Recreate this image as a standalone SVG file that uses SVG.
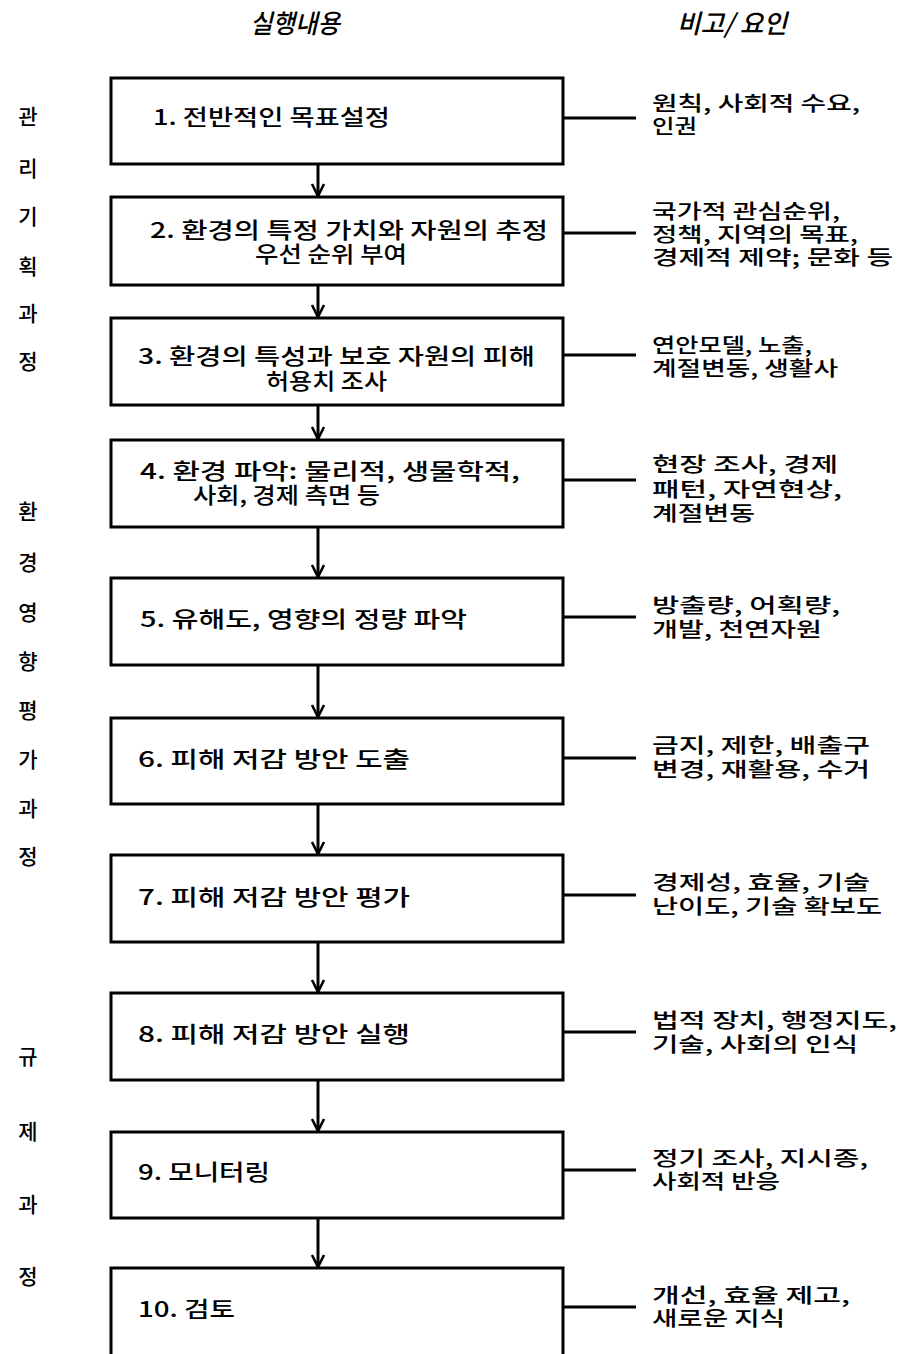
<svg xmlns="http://www.w3.org/2000/svg" width="899" height="1354" viewBox="0 0 899 1354">
<style>
.bg{fill:#fff}
.box{fill:#fff;stroke:#000;stroke-width:3}
.t{font-family:"Noto Sans CJK KR","Liberation Sans",sans-serif;font-size:22px;font-weight:500;fill:#000;dominant-baseline:central}
.r{font-family:"Noto Sans CJK KR","Liberation Sans",sans-serif;font-size:20px;font-weight:500;fill:#000;dominant-baseline:central}
.h{font-family:"Noto Sans CJK KR","Liberation Sans",sans-serif;font-size:26px;font-weight:500;font-style:italic;fill:#000;dominant-baseline:central}
.l{font-family:"Noto Sans CJK KR","Liberation Sans",sans-serif;font-size:21px;font-weight:500;fill:#000;dominant-baseline:central;text-anchor:middle}
.c{stroke:#000;stroke-width:3;fill:none}
.a{stroke:#000;stroke-width:3;fill:none}
</style>
<defs>
<marker id="arr" markerUnits="userSpaceOnUse" markerWidth="16" markerHeight="16" refX="13" refY="7" orient="auto" viewBox="0 0 16 14">
<path d="M1,1 L13,7 L1,13" fill="none" stroke="#000" stroke-width="2.6"/>
</marker>
</defs>
<rect class="bg" x="0" y="0" width="899" height="1354"/>
<g id="headers">
<text class="h" x="250" y="21" textLength="90" lengthAdjust="spacingAndGlyphs">실행내용</text>
<text class="h" x="677" y="21" textLength="110" lengthAdjust="spacingAndGlyphs">비고/ 요인</text>
</g>
<g id="side-labels">
<text class="l" x="28" y="115">관</text>
<text class="l" x="28" y="167">리</text>
<text class="l" x="28" y="215">기</text>
<text class="l" x="28" y="265">획</text>
<text class="l" x="28" y="312">과</text>
<text class="l" x="28" y="360">정</text>
<text class="l" x="28" y="510">환</text>
<text class="l" x="28" y="561">경</text>
<text class="l" x="28" y="611">영</text>
<text class="l" x="28" y="660">향</text>
<text class="l" x="28" y="709">평</text>
<text class="l" x="28" y="758">가</text>
<text class="l" x="28" y="807">과</text>
<text class="l" x="28" y="855">정</text>
<text class="l" x="28" y="1055">규</text>
<text class="l" x="28" y="1130">제</text>
<text class="l" x="28" y="1203">과</text>
<text class="l" x="28" y="1275">정</text>
</g>
<g id="connectors">
<line class="a" x1="318" y1="164" x2="318" y2="196" marker-end="url(#arr)"/>
<line class="a" x1="318" y1="285" x2="318" y2="317" marker-end="url(#arr)"/>
<line class="a" x1="318" y1="405" x2="318" y2="439" marker-end="url(#arr)"/>
<line class="a" x1="318" y1="527" x2="318" y2="577" marker-end="url(#arr)"/>
<line class="a" x1="318" y1="665" x2="318" y2="717" marker-end="url(#arr)"/>
<line class="a" x1="318" y1="804" x2="318" y2="854" marker-end="url(#arr)"/>
<line class="a" x1="318" y1="942" x2="318" y2="992" marker-end="url(#arr)"/>
<line class="a" x1="318" y1="1080" x2="318" y2="1131" marker-end="url(#arr)"/>
<line class="a" x1="318" y1="1218" x2="318" y2="1267" marker-end="url(#arr)"/>
<line class="c" x1="563" y1="118" x2="636" y2="118"/>
<line class="c" x1="563" y1="233" x2="636" y2="233"/>
<line class="c" x1="563" y1="355" x2="636" y2="355"/>
<line class="c" x1="563" y1="480" x2="636" y2="480"/>
<line class="c" x1="563" y1="617" x2="636" y2="617"/>
<line class="c" x1="563" y1="758" x2="636" y2="758"/>
<line class="c" x1="563" y1="895" x2="636" y2="895"/>
<line class="c" x1="563" y1="1032" x2="636" y2="1032"/>
<line class="c" x1="563" y1="1170" x2="636" y2="1170"/>
<line class="c" x1="563" y1="1307" x2="636" y2="1307"/>
</g>
<g id="n1">
<rect class="box" x="111" y="78" width="452" height="86"/>
<text class="t" x="153" y="115" textLength="237" lengthAdjust="spacingAndGlyphs">1. 전반적인 목표설정</text>
<text class="r" x="652" y="102" textLength="208" lengthAdjust="spacingAndGlyphs">원칙, 사회적 수요,</text>
<text class="r" x="652" y="125" textLength="45" lengthAdjust="spacingAndGlyphs">인권</text>
</g>
<g id="n2">
<rect class="box" x="111" y="197" width="452" height="88"/>
<text class="t" x="150" y="228" textLength="398" lengthAdjust="spacingAndGlyphs">2. 환경의 특정 가치와 자원의 추정</text>
<text class="t" x="255" y="252" textLength="152" lengthAdjust="spacingAndGlyphs">우선 순위 부여</text>
<text class="r" x="652" y="210" textLength="188" lengthAdjust="spacingAndGlyphs">국가적 관심순위,</text>
<text class="r" x="652" y="233" textLength="206" lengthAdjust="spacingAndGlyphs">정책, 지역의 목표,</text>
<text class="r" x="652" y="256" textLength="241" lengthAdjust="spacingAndGlyphs">경제적 제약; 문화 등</text>
</g>
<g id="n3">
<rect class="box" x="111" y="318" width="452" height="87"/>
<text class="t" x="138" y="354" textLength="397" lengthAdjust="spacingAndGlyphs">3. 환경의 특성과 보호 자원의 피해</text>
<text class="t" x="266" y="379" textLength="121" lengthAdjust="spacingAndGlyphs">허용치 조사</text>
<text class="r" x="652" y="344" textLength="160" lengthAdjust="spacingAndGlyphs">연안모델, 노출,</text>
<text class="r" x="652" y="367" textLength="186" lengthAdjust="spacingAndGlyphs">계절변동, 생활사</text>
</g>
<g id="n4">
<rect class="box" x="111" y="440" width="452" height="87"/>
<text class="t" x="140" y="469" textLength="380" lengthAdjust="spacingAndGlyphs">4. 환경 파악: 물리적, 생물학적,</text>
<text class="t" x="193" y="493" textLength="187" lengthAdjust="spacingAndGlyphs">사회, 경제 측면 등</text>
<text class="r" x="652" y="463" textLength="186" lengthAdjust="spacingAndGlyphs">현장 조사, 경제</text>
<text class="r" x="652" y="488" textLength="190" lengthAdjust="spacingAndGlyphs">패턴, 자연현상,</text>
<text class="r" x="652" y="512" textLength="103" lengthAdjust="spacingAndGlyphs">계절변동</text>
</g>
<g id="n5">
<rect class="box" x="111" y="578" width="452" height="87"/>
<text class="t" x="140" y="617" textLength="327" lengthAdjust="spacingAndGlyphs">5. 유해도, 영향의 정량 파악</text>
<text class="r" x="652" y="604" textLength="188" lengthAdjust="spacingAndGlyphs">방출량, 어획량,</text>
<text class="r" x="652" y="628" textLength="170" lengthAdjust="spacingAndGlyphs">개발, 천연자원</text>
</g>
<g id="n6">
<rect class="box" x="111" y="718" width="452" height="86"/>
<text class="t" x="138" y="757" textLength="272" lengthAdjust="spacingAndGlyphs">6. 피해 저감 방안 도출</text>
<text class="r" x="652" y="744" textLength="218" lengthAdjust="spacingAndGlyphs">금지, 제한, 배출구</text>
<text class="r" x="652" y="768" textLength="218" lengthAdjust="spacingAndGlyphs">변경, 재활용, 수거</text>
</g>
<g id="n7">
<rect class="box" x="111" y="855" width="452" height="87"/>
<text class="t" x="138" y="895" textLength="272" lengthAdjust="spacingAndGlyphs">7. 피해 저감 방안 평가</text>
<text class="r" x="652" y="881" textLength="218" lengthAdjust="spacingAndGlyphs">경제성, 효율, 기술</text>
<text class="r" x="652" y="905" textLength="230" lengthAdjust="spacingAndGlyphs">난이도, 기술 확보도</text>
</g>
<g id="n8">
<rect class="box" x="111" y="993" width="452" height="87"/>
<text class="t" x="138" y="1032" textLength="272" lengthAdjust="spacingAndGlyphs">8. 피해 저감 방안 실행</text>
<text class="r" x="652" y="1019" textLength="245" lengthAdjust="spacingAndGlyphs">법적 장치, 행정지도,</text>
<text class="r" x="652" y="1043" textLength="206" lengthAdjust="spacingAndGlyphs">기술, 사회의 인식</text>
</g>
<g id="n9">
<rect class="box" x="111" y="1132" width="452" height="86"/>
<text class="t" x="138" y="1170" textLength="132" lengthAdjust="spacingAndGlyphs">9. 모니터링</text>
<text class="r" x="652" y="1157" textLength="216" lengthAdjust="spacingAndGlyphs">정기 조사, 지시종,</text>
<text class="r" x="652" y="1180" textLength="128" lengthAdjust="spacingAndGlyphs">사회적 반응</text>
</g>
<g id="n10">
<rect class="box" x="111" y="1268" width="452" height="100"/>
<text class="t" x="138" y="1307" textLength="97" lengthAdjust="spacingAndGlyphs">10. 검토</text>
<text class="r" x="652" y="1294" textLength="198" lengthAdjust="spacingAndGlyphs">개선, 효율 제고,</text>
<text class="r" x="652" y="1317" textLength="133" lengthAdjust="spacingAndGlyphs">새로운 지식</text>
</g>
</svg>
